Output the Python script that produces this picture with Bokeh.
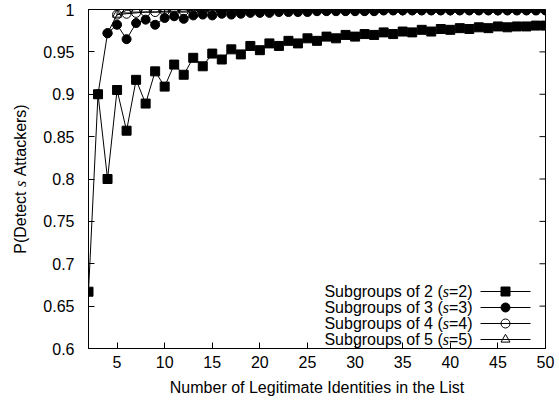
import math
from bokeh.plotting import figure
from bokeh.layouts import row
from bokeh.models import LinearAxis, FixedTicker, CustomJSTickFormatter, Range1d
from bokeh.core.properties import value
from bokeh.embed import file_html
from bokeh.resources import INLINE

# ---------------- data ----------------
n_s2 = list(range(2, 51))
p_s2 = [0.667, 0.900, 0.800, 0.905, 0.857, 0.917, 0.889, 0.927, 0.909, 0.935,
        0.923, 0.943, 0.933, 0.948, 0.941, 0.953, 0.947, 0.957, 0.952, 0.960,
        0.957, 0.963, 0.960, 0.966, 0.963, 0.968, 0.966, 0.970, 0.968, 0.971,
        0.970, 0.973, 0.971, 0.974, 0.973, 0.976, 0.974, 0.977, 0.976, 0.978,
        0.977, 0.979, 0.978, 0.980, 0.979, 0.980, 0.980, 0.981, 0.981]
n_s3 = list(range(3, 51))
p_s3 = [0.900, 0.972, 0.982, 0.965, 0.984, 0.988, 0.982, 0.990, 0.992, 0.989,
        0.993, 0.994, 0.993, 0.995, 0.994, 0.995, 0.996, 0.996, 0.996, 0.997,
        0.997, 0.997, 0.997, 0.998, 0.998, 0.998, 0.998, 0.998, 0.998, 0.998,
        0.999, 0.999, 0.999, 0.999, 0.999, 0.999, 0.999, 0.999, 0.999, 0.999,
        0.999, 0.999, 0.999, 0.999, 0.999, 0.999, 0.999, 0.999]
n_s4 = list(range(4, 51))
p_s4 = [0.972, 0.994, 0.995, 0.996, 0.997, 0.997, 0.998, 0.998, 0.998, 0.999,
        0.999, 0.999, 0.999, 0.999, 0.999, 0.999, 0.999, 0.999, 0.999, 0.999,
        0.999, 0.999, 0.999, 0.999, 0.999, 0.999, 0.999, 0.999, 0.999, 0.999,
        0.999, 0.999, 0.999, 0.999, 0.999, 0.999, 0.999, 0.999, 0.999, 0.999,
        0.999, 0.999, 0.999, 0.999, 0.999, 0.999, 0.999]
n_s5 = list(range(5, 51))
p_s5 = [0.994, 0.999, 1.0, 1.0, 1.0, 1.0, 1.0, 1.0, 1.0, 1.0,
        1.0, 1.0, 1.0, 1.0, 1.0, 1.0, 1.0, 1.0, 1.0, 1.0,
        1.0, 1.0, 1.0, 1.0, 1.0, 1.0, 1.0, 1.0, 1.0, 1.0,
        1.0, 1.0, 1.0, 1.0, 1.0, 1.0, 1.0, 1.0, 1.0, 1.0,
        1.0, 1.0, 1.0, 1.0, 1.0, 1.0]
subgroup_sizes = ["2", "3", "4", "5"]
x_ticks = [5, 10, 15, 20, 25, 30, 35, 40, 45, 50]
y_ticks = [0.6, 0.65, 0.7, 0.75, 0.8, 0.85, 0.9, 0.95, 1.0]
x_title = "Number of Legitimate Identities in the List"
y_title_parts = ["P(Detect", "s", "Attackers)"]

# ---------------- layout ----------------
FONT = "Liberation Sans"
SERIF = "Liberation Serif"
FS = 16
W, H = 559, 401
LW = 32                       # strip on the left holding the y title
ML, MR, MT, MB = 88, 14, 9, 53
PW = W - LW
FW, FH = PW - (ML - LW) - MR, H - MT - MB
TICK = 6

p = figure(width=PW, height=H, output_backend="svg", toolbar_location=None,
           x_range=Range1d(2, 50), y_range=Range1d(0.6, 1.0),
           min_border_left=ML - LW, min_border_right=MR, min_border_top=MT,
           min_border_bottom=MB, x_axis_type=None, y_axis_type=None)
p.extra_x_ranges = {"px": Range1d(0, FW)}
p.extra_y_ranges = {"px": Range1d(0, FH)}
p.grid.visible = False
p.outline_line_color = "black"
p.outline_line_width = 1
p.background_fill_color = "white"
p.border_fill_color = "white"

fmt = CustomJSTickFormatter(code="return String(Math.round(tick*100)/100);")

def style_axis(ax, standoff):
    ax.major_tick_in = TICK
    ax.major_tick_out = 0
    ax.minor_tick_in = 0
    ax.minor_tick_out = 0
    ax.axis_line_color = "black"
    ax.major_tick_line_color = "black"
    ax.major_label_text_font = FONT
    ax.major_label_text_color = "black"
    ax.major_label_text_font_size = f"{FS}px"
    ax.major_label_standoff = standoff

xb = LinearAxis(ticker=FixedTicker(ticks=x_ticks), formatter=fmt)
style_axis(xb, 7)
xb.axis_label = x_title
xb.axis_label_text_font = FONT
xb.axis_label_text_font_style = "normal"
xb.axis_label_text_font_size = f"{FS}px"
xb.axis_label_text_color = "black"
xb.axis_label_standoff = 8
p.add_layout(xb, "below")

yl = LinearAxis(ticker=FixedTicker(ticks=y_ticks), formatter=fmt)
style_axis(yl, 14)
p.add_layout(yl, "left")

# mirrored inward ticks on the top and right borders (gnuplot style)
p.segment(x0=x_ticks, y0=[FH] * len(x_ticks), x1=x_ticks, y1=[FH - TICK] * len(x_ticks),
          line_color="black", line_width=1, y_range_name="px")
p.segment(x0=[FW] * len(y_ticks), y0=y_ticks, x1=[FW - TICK] * len(y_ticks), y1=y_ticks,
          line_color="black", line_width=1, x_range_name="px")

# ---------------- series ----------------
series = [
    (n_s2, p_s2, "square", "black", 9),
    (n_s3, p_s3, "circle", "black", 9),
    (n_s4, p_s4, "circle", None, 9),
    (n_s5, p_s5, "triangle", None, 9),
]
for xs, ys, marker, fill, size in series:
    p.line(xs, ys, line_color="black", line_width=1)
    p.scatter(xs, ys, marker=marker, size=size, line_color="black",
              fill_color=fill, line_width=1)

# ---------------- legend (gnuplot style, sample on the right) ----------------
LEG_TEXT_RIGHT = 472 - ML
LEG_LINE_X0, LEG_LINE_X1, LEG_MARK_X = 480 - ML, 530 - ML, 505 - ML
LEG_ROW_Y = [57, 41, 25, 9]
EM_SUFFIX = 1.473   # "=2)" in Liberation Sans
EM_S = 0.389        # italic "s" in Liberation Serif
for (xs, ys, marker, fill, size), k, ry in zip(series, subgroup_sizes, LEG_ROW_Y):
    p.segment(x0=[LEG_LINE_X0], y0=[ry], x1=[LEG_LINE_X1], y1=[ry],
              line_color="black", line_width=1,
              x_range_name="px", y_range_name="px")
    p.scatter([LEG_MARK_X], [ry], marker=marker, size=size, line_color="black",
              fill_color=fill, line_width=1, x_range_name="px", y_range_name="px")
    x_suf = LEG_TEXT_RIGHT
    x_s = x_suf - EM_SUFFIX * FS
    x_pre = x_s - EM_S * FS
    p.text([x_suf], [ry], text=[f"={k})"], text_font=value(FONT),
           text_font_size=f"{FS}px", text_align="right", text_baseline="middle",
           text_color="black", x_range_name="px", y_range_name="px")
    p.text([x_s], [ry], text=["s"], text_font=value(SERIF), text_font_style="italic",
           text_font_size=f"{FS}px", text_align="right", text_baseline="middle",
           text_color="black", x_range_name="px", y_range_name="px")
    p.text([x_pre], [ry], text=[f"Subgroups of {k} ("], text_font=value(FONT),
           text_font_size=f"{FS}px", text_align="right", text_baseline="middle",
           text_color="black", x_range_name="px", y_range_name="px")

# ---------------- y axis title (with italic s) in a narrow strip ----------------
# the strip's frame is aligned with the main frame by the row layout
t = figure(width=LW, height=H, output_backend="svg", toolbar_location=None,
           x_range=Range1d(0, LW), y_range=Range1d(0, FH),
           min_border_left=0, min_border_right=0, min_border_top=MT,
           min_border_bottom=MB, x_axis_type=None, y_axis_type=None)
t.grid.visible = False
t.outline_line_color = None
t.background_fill_color = "white"
t.border_fill_color = "white"
EM_SPACE = 0.278
EM_PARTS = [3.890, 0.389, 4.501]      # widths of the three pieces
total = sum(EM_PARTS) * FS + 2 * EM_SPACE * FS
acc = FH / 2 - total / 2
YLAB_X = 20
for part, em in zip(y_title_parts, EM_PARTS):
    italic = part == "s"
    t.text([YLAB_X], [acc], text=[part], angle=math.pi / 2,
           text_font=value(SERIF if italic else FONT),
           text_font_style="italic" if italic else "normal",
           text_font_size=f"{FS}px", text_align="left", text_baseline="middle",
           text_color="black")
    acc += (em + EM_SPACE) * FS

layout = row(t, p, spacing=0)
open("out.html", "w").write(file_html(layout, INLINE))
